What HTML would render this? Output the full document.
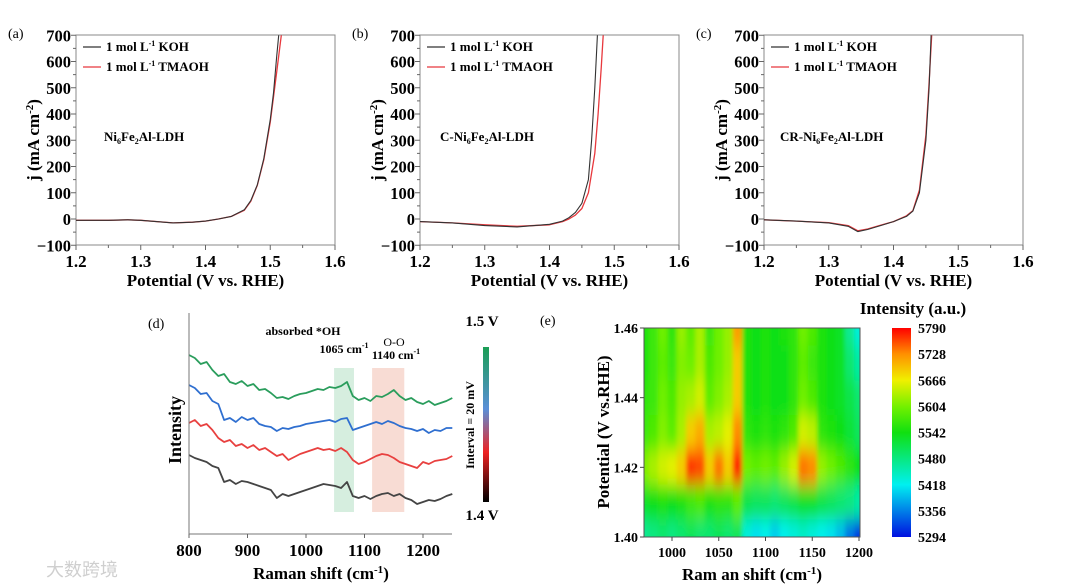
<!DOCTYPE html>
<html><head><meta charset="utf-8"><style>
html,body{margin:0;padding:0;background:#fff;}
svg{display:block;font-family:"Liberation Serif",serif;}
</style></head><body>
<svg id="fig" width="1080" height="588" viewBox="0 0 1080 588" xmlns="http://www.w3.org/2000/svg">
<defs>
<filter id="hblur" x="-5%" y="-20%" width="110%" height="140%"><feGaussianBlur stdDeviation="2 9"/></filter>
<clipPath id="hclip"><rect x="644" y="328" width="216" height="209"/></clipPath>
<linearGradient id="dbar" x1="0" y1="0" x2="0" y2="1">
<stop offset="0" stop-color="#1a9e55"/><stop offset="0.4" stop-color="#5a8fd8"/><stop offset="0.68" stop-color="#ee2222"/><stop offset="1" stop-color="#000"/></linearGradient>
<linearGradient id="ebar" x1="0" y1="1" x2="0" y2="0">
<stop offset="0" stop-color="#0010e0"/><stop offset="0.25" stop-color="#00f0f0"/><stop offset="0.5" stop-color="#10e010"/><stop offset="0.62" stop-color="#70f000"/><stop offset="0.75" stop-color="#f0f000"/><stop offset="0.875" stop-color="#ff9000"/><stop offset="1" stop-color="#ff0000"/></linearGradient>
</defs>
</svg>
<script>
// ---- LSV data (potential V, j mA cm^-2) ----
const lsvA_x_koh=[1.2,1.25,1.28,1.3,1.35,1.38,1.4,1.42,1.44,1.46,1.47,1.48,1.49,1.5,1.505,1.51,1.513];
const lsvA_y_koh=[-5,-5,-3,-5,-15,-12,-8,0,10,35,70,130,230,380,480,620,700];
const lsvA_x_tma=[1.2,1.25,1.28,1.3,1.35,1.38,1.4,1.42,1.44,1.46,1.47,1.48,1.49,1.5,1.51,1.517];
const lsvA_y_tma=[-5,-5,-3,-5,-15,-12,-8,0,10,33,68,128,225,370,560,700];
const lsvB_x_koh=[1.2,1.25,1.3,1.35,1.4,1.42,1.43,1.44,1.45,1.46,1.465,1.47,1.474];
const lsvB_y_koh=[-10,-15,-25,-30,-20,-8,5,25,60,150,300,500,700];
const lsvB_x_tma=[1.2,1.25,1.3,1.35,1.4,1.42,1.43,1.44,1.45,1.46,1.47,1.475,1.48,1.483];
const lsvB_y_tma=[-10,-15,-22,-28,-22,-10,0,15,40,100,250,400,580,700];
const lsvC_x_koh=[1.2,1.25,1.3,1.33,1.345,1.36,1.38,1.4,1.42,1.43,1.44,1.45,1.455,1.458];
const lsvC_y_koh=[-3,-8,-15,-28,-48,-40,-25,-10,10,30,100,300,500,700];
const lsvC_x_tma=[1.2,1.25,1.3,1.33,1.345,1.36,1.38,1.4,1.42,1.43,1.44,1.45,1.455,1.459];
const lsvC_y_tma=[-3,-8,-14,-25,-45,-38,-24,-10,12,32,110,320,520,700];
const lsvXTicks=[1.2,1.3,1.4,1.5,1.6];
const lsvYTicks=[-100,0,100,200,300,400,500,600,700];
// ---- Raman spectra (d) ----
const ramanX=[800,810,820,830,840,850,860,870,880,890,900,910,920,930,940,950,960,970,980,990,1000,1010,1020,1030,1040,1050,1060,1070,1080,1090,1100,1110,1120,1130,1140,1150,1160,1170,1180,1190,1200,1210,1220,1230,1240,1250];
const ramanGreen=[179,176,170,172,164,158,160,152,150,153,148,150,144,145,141,136,137,135,138,140,141,143,145,144,147,146,148,152,138,134,136,133,138,137,140,144,138,134,136,132,130,133,129,131,133,136];
const ramanBlue=[149,146,140,141,133,130,114,116,112,117,114,116,110,108,107,103,106,105,107,108,110,111,112,113,114,112,115,116,104,106,108,110,112,110,113,111,108,106,105,103,105,101,104,103,106,106];
const ramanRed=[111,114,108,110,104,96,92,94,88,90,86,89,84,86,82,78,80,74,77,80,82,84,86,84,85,83,86,82,74,70,72,75,78,80,79,76,72,70,68,66,72,70,73,74,75,78];
const ramanBlack=[79,76,74,72,68,66,52,54,50,53,52,50,48,46,44,36,40,38,40,42,44,46,48,50,49,48,46,52,38,36,38,35,38,40,41,38,40,36,34,30,32,34,33,35,38,40];
const ramanXTicks=[800,900,1000,1100,1200];
// ---- Heatmap (e) ----
const heatX=[970,980,990,1000,1010,1020,1030,1040,1050,1060,1070,1080,1090,1100,1110,1120,1130,1140,1150,1160,1170,1180,1190,1200];
const heatY=[1.46,1.45,1.44,1.43,1.42,1.41,1.40];
const heatRow146=[5550,5570,5600,5560,5620,5590,5630,5570,5600,5620,5720,5550,5540,5550,5540,5550,5560,5600,5580,5550,5540,5530,5470,5430];
const heatRow145=[5550,5570,5590,5570,5610,5600,5630,5580,5600,5620,5690,5550,5540,5550,5540,5540,5560,5590,5570,5550,5540,5530,5490,5460];
const heatRow144=[5560,5570,5600,5580,5620,5630,5650,5590,5610,5630,5690,5550,5540,5550,5540,5540,5560,5600,5580,5550,5540,5530,5510,5490];
const heatRow143=[5570,5580,5610,5590,5630,5690,5710,5630,5640,5660,5730,5560,5550,5560,5550,5560,5580,5650,5640,5560,5550,5540,5520,5500];
const heatRow142=[5610,5630,5650,5660,5690,5770,5760,5690,5740,5690,5780,5600,5590,5600,5590,5620,5650,5740,5730,5620,5600,5580,5560,5540];
const heatRow141=[5530,5540,5550,5540,5550,5570,5580,5550,5560,5560,5590,5510,5500,5500,5490,5500,5510,5530,5530,5510,5500,5490,5480,5460];
const heatRow140=[5470,5480,5490,5480,5490,5500,5490,5490,5500,5490,5500,5430,5410,5420,5400,5420,5430,5440,5430,5420,5410,5390,5350,5310];
const heatXTicks=[1000,1050,1100,1150,1200];
const heatYTicks=[1.40,1.42,1.44,1.46];
const cbarTicks=[5790,5728,5666,5604,5542,5480,5418,5356,5294];

const svg=document.getElementById('fig');
const NS='http://www.w3.org/2000/svg';
function mk(tag,attrs,parent){const e=document.createElementNS(NS,tag);for(const k in attrs)e.setAttribute(k,attrs[k]);(parent||svg).appendChild(e);return e;}
function named(e,n){


return e;}
function txt(x,y,s,opt,n){const e=mk('text',Object.assign({x:x,y:y,'font-size':15,'font-weight':'bold','text-anchor':'middle',fill:'#000'},opt||{}));e.innerHTML=s;return named(e,n);}
function poly(pts,color,w,n,g){const e=mk('polyline',{points:pts.map(p=>p[0].toFixed(1)+','+p[1].toFixed(1)).join(' '),fill:'none',stroke:color,'stroke-width':w,'stroke-linejoin':'round'},g);return named(e,n);}

// ---------- LSV panels ----------
function lsvPanel(off,letter,anno,kx,ky,tx,ty){
  const g=named(mk('g',{}),'lsv-panel-'+letter);
  const x0=76+off,x1=335+off,yT=35,yB=245;
  const sx=v=>x0+(v-1.2)/0.4*(x1-x0);
  const sy=v=>219-v*0.2625;
  named(mk('rect',{x:x0,y:yT,width:x1-x0,height:yB-yT,fill:'none',stroke:'#888','stroke-width':1},g),'plot-frame');
  lsvXTicks.forEach(v=>{named(mk('line',{x1:sx(v),x2:sx(v),y1:yB,y2:yB+5,stroke:'#666'},g),'x-tick');
    txt(sx(v),yB+22,v.toFixed(1),{'font-size':17},'x-tick-label');});
  for(let v=1.25;v<1.6;v+=0.1)named(mk('line',{x1:sx(v),x2:sx(v),y1:yB,y2:yB+3,stroke:'#666'},g),'x-minor-tick');
  lsvYTicks.forEach(v=>{named(mk('line',{x1:x0-5,x2:x0,y1:sy(v),y2:sy(v),stroke:'#666'},g),'y-tick');
    txt(x0-5,sy(v)+6,v<0?'\u2212'+(-v):String(v),{'font-size':16.5,'text-anchor':'end'},'y-tick-label');});
  for(let v=-50;v<700;v+=100)named(mk('line',{x1:x0-3,x2:x0,y1:sy(v),y2:sy(v),stroke:'#666'},g),'y-minor-tick');
  txt((x0+x1)/2,yB+41,'Potential (V vs. RHE)',{'font-size':17},'x-axis-title');
  txt(0,0,'j (mA cm<tspan dy="-6" font-size="11">-2</tspan><tspan dy="6">)</tspan>',{'font-size':17,transform:'translate('+(off+39)+',140) rotate(-90)'},'y-axis-title');
  txt(off+8,38,'('+letter+')',{'font-size':14,'font-weight':'normal','text-anchor':'start'},'panel-label');
  const cp='cl'+letter;const c=mk('clipPath',{id:cp});mk('rect',{x:x0,y:yT,width:x1-x0,height:yB-yT},c);
  const dg=mk('g',{'clip-path':'url(#'+cp+')'},g);
  poly(tx.map((v,i)=>[sx(v),sy(ty[i])]),'#e8383d',1.3,'tmaoh-curve',dg);
  poly(kx.map((v,i)=>[sx(v),sy(ky[i])]),'#333',1.1,'koh-curve',dg);
  named(mk('line',{x1:off+83,x2:off+101,y1:47,y2:47,stroke:'#333','stroke-width':1.3},g),'legend-koh-line');
  named(mk('line',{x1:off+83,x2:off+101,y1:67,y2:67,stroke:'#e8383d','stroke-width':1.3},g),'legend-tmaoh-line');
  txt(off+106,51,'1 mol L<tspan dy="-5" font-size="8">-1</tspan><tspan dy="5"> KOH</tspan>',{'font-size':13,'text-anchor':'start'},'legend-koh-label');
  txt(off+106,71,'1 mol L<tspan dy="-5" font-size="8">-1</tspan><tspan dy="5"> TMAOH</tspan>',{'font-size':13,'text-anchor':'start'},'legend-tmaoh-label');
  txt(off+anno[0],141,anno[1],{'font-size':13,'text-anchor':'start'},'sample-label');
}
lsvPanel(0,'a',[104,'Ni<tspan dy="3" font-size="8">6</tspan><tspan dy="-3">Fe</tspan><tspan dy="3" font-size="8">2</tspan><tspan dy="-3">Al-LDH</tspan>'],lsvA_x_koh,lsvA_y_koh,lsvA_x_tma,lsvA_y_tma);
lsvPanel(344,'b',[96,'C-Ni<tspan dy="3" font-size="8">6</tspan><tspan dy="-3">Fe</tspan><tspan dy="3" font-size="8">2</tspan><tspan dy="-3">Al-LDH</tspan>'],lsvB_x_koh,lsvB_y_koh,lsvB_x_tma,lsvB_y_tma);
lsvPanel(688,'c',[92,'CR-Ni<tspan dy="3" font-size="8">6</tspan><tspan dy="-3">Fe</tspan><tspan dy="3" font-size="8">2</tspan><tspan dy="-3">Al-LDH</tspan>'],lsvC_x_koh,lsvC_y_koh,lsvC_x_tma,lsvC_y_tma);

// ---------- Raman panel (d) ----------
(function(){
  const g=named(mk('g',{}),'raman-panel');
  const x0=189,x1=452,yT=313,yB=534;
  const sx=v=>189+(v-800)/400*(423-189);
  const sy=v=>yB-v;
  named(mk('rect',{x:sx(1048),y:368,width:sx(1082)-sx(1048),height:144,fill:'#d6eedf'},g),'oh-band-highlight');
  named(mk('rect',{x:sx(1113),y:368,width:sx(1168)-sx(1113),height:144,fill:'#f8dcd4'},g),'oo-band-highlight');
  poly(ramanX.map((v,i)=>[sx(v),sy(ramanBlack[i])]),'#444',1.8,'spectrum-1.40V',g);
  poly(ramanX.map((v,i)=>[sx(v),sy(ramanRed[i])]),'#e8403f',1.8,'spectrum-1.42V',g);
  poly(ramanX.map((v,i)=>[sx(v),sy(ramanBlue[i])]),'#2f6fd0',1.8,'spectrum-1.44V',g);
  poly(ramanX.map((v,i)=>[sx(v),sy(ramanGreen[i])]),'#2a9d5c',1.8,'spectrum-1.46V',g);
  named(mk('path',{d:`M${x0},${yT}V${yB}H${x1}`,fill:'none',stroke:'#777'},g),'axes-lines');
  ramanXTicks.forEach(v=>{named(mk('line',{x1:sx(v),x2:sx(v),y1:yB,y2:yB+4,stroke:'#666'},g),'x-tick');
    txt(sx(v),yB+22,String(v),{'font-size':17},'x-tick-label');});
  txt(321,579,'Raman shift (cm<tspan dy="-6" font-size="11">-1</tspan><tspan dy="6">)</tspan>',{'font-size':17},'x-axis-title');
  txt(0,0,'Intensity',{'font-size':18,transform:'translate(181,430) rotate(-90)'},'y-axis-title');
  txt(148,328,'(d)',{'font-size':14,'font-weight':'normal','text-anchor':'start'},'panel-label');
  txt(303,335,'absorbed *OH',{'font-size':12},'oh-label');
  txt(344,353,'1065 cm<tspan dy="-5" font-size="8">-1</tspan>',{'font-size':12},'oh-wavenumber');
  txt(394,346,'O-O',{'font-size':12,'font-weight':'normal'},'oo-label');
  txt(396,359,'1140 cm<tspan dy="-5" font-size="8">-1</tspan>',{'font-size':12},'oo-wavenumber');
  named(mk('rect',{x:483,y:347,width:6,height:155,fill:'url(#dbar)'},g),'potential-colorbar');
  txt(482,326,'1.5 V',{'font-size':15},'colorbar-top-label');
  txt(482,520,'1.4 V',{'font-size':15},'colorbar-bottom-label');
  txt(0,0,'Interval = 20 mV',{'font-size':12,transform:'translate(474,425) rotate(-90)'},'interval-label');
})();

// ---------- Heatmap panel (e) ----------
(function(){
  const g=named(mk('g',{}),'heatmap-panel');
  const x0=644,x1=860,yT=328,yB=537;
  const sx=v=>672+(v-1000)/200*(859-672);
  const sy=v=>yB-(v-1.40)/0.06*(yB-yT);
  const stops=[[0,[0,16,224]],[0.25,[0,240,240]],[0.5,[16,224,16]],[0.62,[112,240,0]],[0.75,[240,240,0]],[0.875,[255,144,0]],[1,[255,0,0]]];
  function col(v){let t=(v-5294)/(5790-5294);t=Math.max(0,Math.min(1,t));
    for(let i=1;i<stops.length;i++){if(t<=stops[i][0]){const a=stops[i-1],b=stops[i],f=(t-a[0])/(b[0]-a[0]);
      const c=a[1].map((q,k)=>Math.round(q+(b[1][k]-q)*f));return `rgb(${c})`;}}return 'rgb(255,0,0)';}
  const rows=[heatRow146,heatRow145,heatRow144,heatRow143,heatRow142,heatRow141,heatRow140];
  const cg=mk('g',{'clip-path':'url(#hclip)'},g);
  const bg=mk('g',{filter:'url(#hblur)'},cg);
  const cw=sx(1010)-sx(1000),rh=sy(1.40)-sy(1.41);
  rows.forEach((row,r)=>row.forEach((v,c)=>{
    const xa=sx(heatX[c])-cw/2-(c===0?15:0),xb=sx(heatX[c])+cw/2+(c===heatX.length-1?15:0);
    const ya=sy(heatY[r])-rh/2-(r===0?20:0),yb=sy(heatY[r])+rh/2+(r===rows.length-1?20:0);
    const e=mk('rect',{x:xa,y:ya,width:xb-xa+0.5,height:yb-ya+0.5,fill:col(v)},bg);
    
    
  }));
  named(mk('rect',{x:x0,y:yT,width:x1-x0,height:yB-yT,fill:'none',stroke:'#555'},g),'plot-frame');
  heatXTicks.forEach(v=>{named(mk('line',{x1:sx(v),x2:sx(v),y1:yB,y2:yB+4,stroke:'#444'},g),'x-tick');
    txt(sx(v),yB+20,String(v),{'font-size':14},'x-tick-label');});
  heatYTicks.forEach(v=>{named(mk('line',{x1:x0-4,x2:x0,y1:sy(v),y2:sy(v),stroke:'#444'},g),'y-tick');
    txt(x0-6,sy(v)+5,v.toFixed(2),{'font-size':14,'text-anchor':'end'},'y-tick-label');});
  txt(752,580,'Ram an shift (cm<tspan dy="-6" font-size="11">-1</tspan><tspan dy="6">)</tspan>',{'font-size':17},'x-axis-title');
  txt(0,0,'Potential (V vs.RHE)',{'font-size':17,transform:'translate(609,432) rotate(-90)'},'y-axis-title');
  txt(540,325,'(e)',{'font-size':14,'font-weight':'normal','text-anchor':'start'},'panel-label');
  named(mk('rect',{x:892,y:yT,width:19,height:yB-yT,fill:'url(#ebar)'},g),'intensity-colorbar');
  cbarTicks.forEach(v=>{const y=yB-(v-5294)/(5790-5294)*(yB-yT);
    txt(918,y+5,String(v),{'font-size':14,'text-anchor':'start'},'colorbar-tick-label');});
  txt(913,314,'Intensity (a.u.)',{'font-size':17},'colorbar-title');
})();
txt(46,576,'大数跨境',{'font-size':18,'font-weight':'normal','text-anchor':'start',fill:'#cfcfcf','font-family':'"Liberation Sans","Noto Sans CJK SC",sans-serif'},'watermark');
</script>
</body></html>
